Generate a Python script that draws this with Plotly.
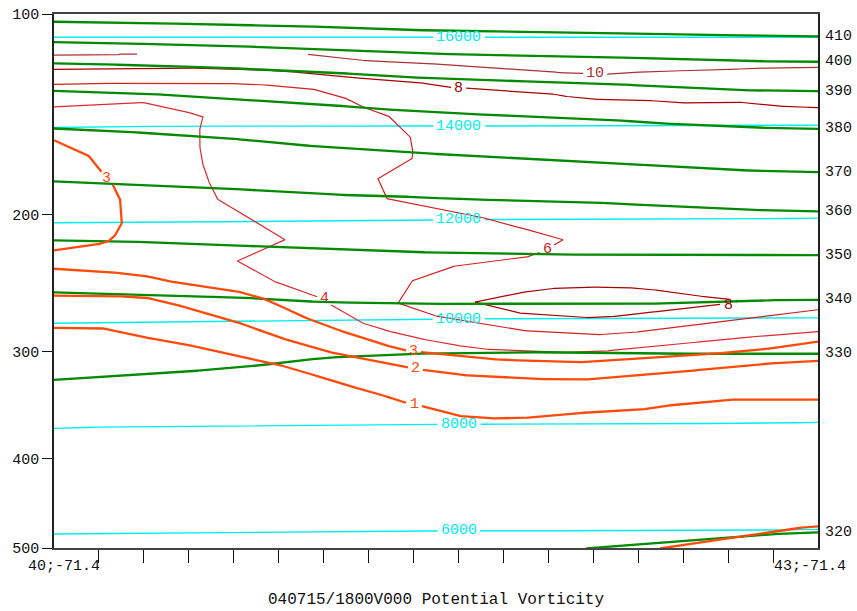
import math
import plotly.graph_objects as go

# ---------------- data ----------------
pressure_ticks = [100, 200, 300, 400, 500]
lat_start, lat_end = 40.0, 43.0
lon_const = -71.4
n_intervals = 17
left_end_label = "40;-71.4"
right_end_label = "43;-71.4"
title_text = "040715/1800V000 Potential Vorticity"

# potential temperature (K) isentropes: latitude / pressure (hPa)
th410_lat = [40.0, 40.357, 40.534, 40.711, 40.887, 41.241, 41.418, 41.948, 42.470, 42.650, 42.823, 43.0]
th410_p = [103.0, 103.5, 103.9, 104.3, 104.5, 105.6, 106.3, 107.3, 107.9, 108.3, 108.7, 108.8]
th400_lat = [40.0, 40.181, 40.357, 40.534, 40.711, 40.887, 41.241, 41.418, 41.594, 41.948, 42.164, 42.341, 42.517, 42.694, 43.0]
th400_p = [111.2, 111.5, 111.9, 112.4, 112.8, 113.6, 115.2, 115.9, 116.3, 116.8, 117.5, 118.1, 118.7, 119.2, 119.5]
th390_lat = [40.0, 40.181, 40.357, 40.534, 40.711, 40.887, 41.064, 41.241, 41.418, 41.594, 41.967, 42.164, 42.341, 42.517, 42.694, 43.0]
th390_p = [120.2, 120.5, 121.3, 121.7, 122.4, 123.3, 124.0, 125.4, 126.5, 127.4, 128.6, 129.2, 130.4, 131.2, 132.3, 132.8]
th380_lat = [40.0, 40.181, 40.357, 40.534, 40.711, 40.887, 41.064, 41.241, 41.418, 41.594, 41.967, 42.164, 42.341, 42.517, 42.694, 43.0]
th380_p = [132.6, 133.1, 133.9, 135.2, 136.5, 137.7, 139.1, 141.1, 142.4, 143.6, 145.5, 146.4, 148.3, 149.3, 150.5, 151.3]
th370_lat = [40.0, 40.181, 40.357, 40.534, 40.711, 40.887, 41.064, 41.241, 41.418, 41.594, 41.967, 42.164, 42.341, 42.517, 42.694, 43.0]
th370_p = [151.1, 152.0, 153.4, 155.0, 156.5, 159.0, 160.8, 162.5, 164.0, 165.3, 168.1, 169.3, 170.9, 172.2, 173.7, 174.7]
th360_lat = [40.0, 40.181, 40.357, 40.534, 40.711, 40.887, 41.064, 41.241, 41.418, 41.594, 41.967, 42.164, 42.341, 42.517, 42.694, 43.0]
th360_p = [180.1, 181.0, 182.2, 183.4, 184.6, 186.3, 187.7, 188.7, 189.3, 190.7, 192.0, 193.0, 194.4, 195.5, 197.1, 198.1]
th350_lat = [40.0, 40.181, 40.357, 40.534, 40.711, 40.887, 41.064, 41.241, 41.418, 41.594, 41.967, 42.5, 43.0]
th350_p = [216.9, 217.1, 218.0, 219.0, 220.2, 221.5, 222.4, 223.6, 224.7, 225.4, 226.4, 226.6, 226.8]
th340_lat = [40.0, 40.181, 40.357, 40.534, 40.711, 40.887, 41.064, 41.241, 41.418, 41.948, 42.144, 42.341, 42.517, 42.694, 43.0]
th340_p = [253.5, 254.5, 255.8, 256.5, 257.0, 259.1, 260.8, 261.5, 262.0, 262.1, 262.5, 262.0, 261.0, 259.5, 259.0]
th330_lat = [40.0, 40.181, 40.357, 40.534, 40.711, 40.887, 41.064, 41.241, 41.418, 41.594, 41.763, 42.065, 42.341, 43.0]
th330_p = [324.7, 322.4, 319.4, 317.1, 314.2, 310.0, 305.5, 303.6, 302.1, 301.6, 300.8, 300.8, 302.1, 302.1]
th320_lat = [42.09, 42.297, 42.474, 42.650, 42.823, 43.0]
th320_p = [500.5, 495.2, 491.2, 487.4, 483.3, 481.4]

# geopotential height (m) lines
z16000_lat = [40.0, 41.5, 43.0]
z16000_p = [109.2, 109.2, 109.2]
z14000_lat = [40.0, 40.44, 42.0, 43.0]
z14000_p = [150.6, 149.9, 149.8, 149.4]
z12000_lat = [40.0, 40.44, 40.887, 41.732, 42.733, 43.0]
z12000_p = [205.3, 204.9, 204.5, 203.2, 203.0, 202.4]
z10000_lat = [40.0, 40.271, 40.624, 40.966, 41.155, 41.732, 41.987, 43.0]
z10000_p = [277.1, 276.3, 275.5, 275.0, 274.4, 273.6, 273.6, 272.9]
z8000_lat = [40.0, 40.090, 40.620, 40.887, 41.155, 41.987, 42.733, 43.0]
z8000_p = [369.8, 368.8, 367.5, 367.2, 366.2, 365.5, 364.9, 364.0]
z6000_lat = [40.0, 40.652, 40.974, 41.720, 42.557, 43.0]
z6000_p = [483.3, 482.1, 480.6, 479.4, 479.4, 477.9]
z_label_lat = 41.59

# potential vorticity (PVU) contours
pv10a_lat = [40.0, 40.251, 40.259, 40.326]
pv10a_p = [116.6, 116.6, 116.2, 116.2]
pv10b_lat = [40.997, 41.182, 41.418, 41.594, 41.948, 41.987, 42.125, 42.164, 42.230, 42.380, 42.603, 42.733, 42.918, 43.0]
pv10b_p = [116.3, 118.8, 119.8, 121.4, 123.6, 124.4, 124.7, 125.0, 124.4, 123.6, 123.2, 122.4, 122.0, 122.0]
pv8a_lat = [40.0, 40.251, 40.455, 40.711, 40.915, 41.123, 41.418, 41.555, 41.634, 41.948, 41.987, 42.105, 42.329, 42.446, 42.682, 42.800, 42.902, 43.0]
pv8a_p = [122.8, 122.6, 122.1, 122.7, 123.6, 126.2, 128.5, 131.0, 131.5, 133.8, 134.9, 136.6, 137.1, 138.4, 137.9, 139.5, 140.3, 140.6]
pv8b_lat = [41.653, 41.802, 41.936, 42.065, 42.211, 42.329, 42.509, 42.643, 42.694, 42.643, 42.446, 42.250, 42.116, 42.065, 41.842, 41.712, 41.653]
pv8b_p = [260.8, 254.5, 250.8, 249.6, 249.6, 250.8, 255.8, 258.2, 260.0, 262.0, 265.9, 271.1, 272.9, 272.3, 269.8, 263.3, 260.8]
pv6_lat = [40.0, 40.094, 40.573, 40.789, 41.005, 41.135, 41.210, 41.312, 41.398, 41.410, 41.406, 41.272, 41.308, 41.673, 41.751, 41.999, 41.936, 41.869, 41.582, 41.410, 41.351, 41.378, 41.488, 41.673, 41.830, 42.065, 42.144, 42.250, 42.446, 42.721, 43.0]
pv6_p = [129.6, 129.2, 128.9, 129.5, 131.5, 135.5, 140.3, 144.6, 155.1, 162.5, 167.1, 178.5, 190.3, 201.7, 204.9, 216.4, 222.9, 227.7, 233.9, 244.2, 261.5, 263.3, 271.1, 277.6, 283.0, 285.6, 286.2, 285.1, 280.3, 273.7, 266.6]
pv4_lat = [40.0, 40.134, 40.350, 40.467, 40.546, 40.585, 40.573, 40.571, 40.580, 40.600, 40.639, 40.907, 40.720, 40.855, 40.966, 41.037, 41.202, 41.280, 41.410, 41.542, 41.673, 41.857, 41.987, 42.144, 42.380, 42.643, 43.0]
pv4_p = [140.3, 139.5, 138.2, 141.1, 143.6, 145.2, 150.3, 158.9, 168.1, 177.6, 190.3, 216.4, 230.9, 244.7, 252.0, 257.0, 276.3, 281.6, 288.4, 293.8, 298.0, 300.0, 301.0, 300.2, 295.8, 289.7, 283.8]
pv3a_lat = [40.0, 40.134, 40.181, 40.227, 40.259, 40.268, 40.246, 40.220, 40.187, 40.0]
pv3a_p = [157.2, 165.3, 173.7, 181.0, 190.3, 204.9, 212.4, 216.9, 219.0, 223.6]
pv3b_lat = [40.0, 40.181, 40.351, 40.429, 40.703, 40.809, 40.887, 40.966, 41.084, 41.280, 41.386, 41.449, 41.594, 41.763, 42.065, 42.509, 42.772, 43.0]
pv3b_p = [236.3, 238.0, 241.1, 244.7, 252.0, 257.0, 263.3, 271.1, 280.3, 293.8, 299.4, 300.8, 304.4, 307.3, 309.3, 303.6, 298.8, 291.9]
pv2_lat = [40.0, 40.181, 40.350, 40.443, 40.703, 40.860, 40.966, 41.084, 41.213, 41.386, 41.449, 41.594, 41.857, 42.065, 42.380, 42.772, 43.0]
pv2_p = [255.8, 255.8, 257.0, 260.8, 275.0, 287.0, 293.8, 300.8, 306.4, 313.6, 315.9, 320.3, 323.8, 324.7, 319.4, 310.7, 308.1]
pv1_lat = [40.0, 40.181, 40.351, 40.508, 40.704, 40.860, 40.966, 41.151, 41.253, 41.390, 41.437, 41.582, 41.622, 41.700, 41.830, 41.936, 42.065, 42.116, 42.301, 42.380, 42.537, 42.654, 43.0]
pv1_p = [280.8, 280.8, 288.4, 293.8, 303.6, 310.2, 316.5, 329.8, 335.8, 346.0, 348.1, 357.6, 358.5, 360.1, 360.1, 357.6, 355.0, 354.4, 352.2, 348.8, 345.0, 342.6, 342.6]
pv1b_lat = [42.380, 42.564, 42.721, 42.902, 43.0]
pv1b_p = [500.5, 492.0, 485.3, 476.7, 474.4]

# PV contour labels: (text, lat, p)
pv10_label = ("10", 42.125, 124.7)
pv8a_label = ("8", 41.590, 131.3)
pv8b_label = ("8", 42.647, 263.3)
pv6_label = ("6", 41.936, 222.9)
pv4_label = ("4", 41.064, 258.2)
pv3a_label = ("3", 40.208, 178.3)
pv3b_label = ("3", 41.410, 300.3)
pv2_label = ("2", 41.418, 314.4)
pv1_label = ("1", 41.414, 347.2)

# ---------------- styling / geometry ----------------
W, H = 857, 611
ML, MR, MT, MB = 54, 39, 14, 63
PW, PH = W - ML - MR, H - MT - MB
KAPPA = 0.2857

GREEN = "#008a00"
CYAN = "#00eeee"
ORANGE = "#ff4a0a"
RED4 = "#e0282e"
RED6 = "#d42020"
RED8 = "#a80000"
RED10 = "#a83232"
FONT = "Liberation Mono, DejaVu Sans Mono, monospace"


def vt(p):
    return p ** KAPPA


V_TOP, V_BOT = vt(pressure_ticks[0]), vt(pressure_ticks[-1])


def to_px(lat, v):
    x = ML + (lat - lat_start) / (lat_end - lat_start) * PW
    y = MT + (v - V_TOP) / (V_BOT - V_TOP) * PH
    return x, y


def interp_p(lats, ps, la):
    for i in range(len(lats) - 1):
        if lats[i] <= la <= lats[i + 1]:
            t = (la - lats[i]) / (lats[i + 1] - lats[i])
            return ps[i] + (ps[i + 1] - ps[i]) * t
    return ps[-1]


def gapped(lats, ps, boxes):
    """densify a polyline and leave gaps where labels sit (boxes in px)"""
    pts = [(la, vt(p)) for la, p in zip(lats, ps)]
    ox, oy = [], []
    for i in range(len(pts) - 1):
        (a0, b0), (a1, b1) = pts[i], pts[i + 1]
        x0, y0 = to_px(a0, b0)
        x1, y1 = to_px(a1, b1)
        n = max(1, int(math.hypot(x1 - x0, y1 - y0)))
        last = i == len(pts) - 2
        for k in range(n + (1 if last else 0)):
            t = k / n
            la = a0 + (a1 - a0) * t
            v = b0 + (b1 - b0) * t
            X, Y = to_px(la, v)
            inside = any(abs(X - cx) <= hw and abs(Y - cy) <= hh for cx, cy, hw, hh in boxes)
            if inside:
                if ox and ox[-1] is not None:
                    ox.append(None)
                    oy.append(None)
            else:
                ox.append(la)
                oy.append(v)
    return ox, oy


def box_for(text, lat, p, pad=2.5, hh=6):
    cx, cy = to_px(lat, vt(p))
    return (cx, cy, 4.6 * len(text) + pad, hh)


fig = go.Figure()
annotations = []


def add_line(lats, ps, color, width, labels=()):
    boxes = [box_for(t, la, p) for t, la, p in labels]
    xs, ys = gapped(lats, ps, boxes)
    fig.add_trace(go.Scatter(x=xs, y=ys, mode="lines", hoverinfo="skip",
                             line=dict(color=color, width=width), showlegend=False))
    for t, la, p in labels:
        annotations.append(dict(x=la, y=vt(p), xref="x", yref="y", text=t, showarrow=False,
                                font=dict(family=FONT, size=15, color=color),
                                xanchor="center", yanchor="middle"))


# height lines (cyan)
height_lines = [
    ("16000", z16000_lat, z16000_p), ("14000", z14000_lat, z14000_p),
    ("12000", z12000_lat, z12000_p), ("10000", z10000_lat, z10000_p),
    ("8000", z8000_lat, z8000_p), ("6000", z6000_lat, z6000_p),
]
for txt, la, pp in height_lines:
    lp = interp_p(la, pp, z_label_lat)
    add_line(la, pp, CYAN, 1.4, labels=[(txt, z_label_lat, lp)])

# thin PV contours
add_line(pv10a_lat, pv10a_p, RED10, 1.2)
add_line(pv10b_lat, pv10b_p, RED10, 1.2, labels=[pv10_label])
add_line(pv8a_lat, pv8a_p, RED8, 1.2, labels=[pv8a_label])
add_line(pv8b_lat, pv8b_p, RED8, 1.2, labels=[pv8b_label])
add_line(pv6_lat, pv6_p, RED6, 1.2, labels=[pv6_label])
add_line(pv4_lat, pv4_p, RED4, 1.2, labels=[pv4_label])

# isentropes (green)
theta_lines = [
    ("410", th410_lat, th410_p), ("400", th400_lat, th400_p), ("390", th390_lat, th390_p),
    ("380", th380_lat, th380_p), ("370", th370_lat, th370_p), ("360", th360_lat, th360_p),
    ("350", th350_lat, th350_p), ("340", th340_lat, th340_p), ("330", th330_lat, th330_p),
    ("320", th320_lat, th320_p),
]
for txt, la, pp in theta_lines:
    add_line(la, pp, GREEN, 2.3)
    annotations.append(dict(x=1, y=vt(pp[-1]), xref="paper", yref="y", text=txt, showarrow=False,
                            font=dict(family=FONT, size=15, color="#111111"),
                            xanchor="left", yanchor="middle", xshift=5))

# thick PV contours
add_line(pv3a_lat, pv3a_p, ORANGE, 2.3, labels=[pv3a_label])
add_line(pv3b_lat, pv3b_p, ORANGE, 2.3, labels=[pv3b_label])
add_line(pv2_lat, pv2_p, ORANGE, 2.3, labels=[pv2_label])
add_line(pv1_lat, pv1_p, ORANGE, 2.3, labels=[pv1_label])
add_line(pv1b_lat, pv1b_p, ORANGE, 2.3)

# end labels and title
annotations.append(dict(x=0, y=0, xref="paper", yref="paper", text=left_end_label, showarrow=False,
                        font=dict(family=FONT, size=15, color="#111111"),
                        xanchor="left", yanchor="top", xshift=-28, yshift=-8))
annotations.append(dict(x=1, y=0, xref="paper", yref="paper", text=right_end_label, showarrow=False,
                        font=dict(family=FONT, size=15, color="#111111"),
                        xanchor="right", yanchor="top", xshift=30, yshift=-8))
annotations.append(dict(x=0.5, y=0, xref="paper", yref="paper", text=title_text, showarrow=False,
                        font=dict(family=FONT, size=16, color="#111111"),
                        xanchor="center", yanchor="middle", yshift=-52))

x_ticks = [lat_start + i * (lat_end - lat_start) / n_intervals for i in range(1, n_intervals)]

fig.update_layout(
    width=W, height=H,
    margin=dict(l=ML, r=MR, t=MT, b=MB, pad=0),
    paper_bgcolor="white", plot_bgcolor="white",
    showlegend=False,
    annotations=annotations,
    xaxis=dict(range=[lat_start, lat_end], showgrid=False, zeroline=False, automargin=False,
               tickvals=x_ticks, ticktext=[""] * len(x_ticks), ticks="outside", ticklen=13,
               tickcolor="#111111", tickwidth=1,
               showline=True, linecolor="#444444", linewidth=1.5, mirror=True),
    yaxis=dict(range=[V_BOT, V_TOP], showgrid=False, zeroline=False, automargin=False,
               tickvals=[vt(p) for p in pressure_ticks], ticktext=[str(p) for p in pressure_ticks],
               ticks="outside", ticklen=10, tickcolor="#111111", tickwidth=1,
               tickfont=dict(family=FONT, size=15, color="#111111"),
               showline=True, linecolor="#222222", linewidth=1.5, mirror=True),
)

fig.write_html("out.html")
